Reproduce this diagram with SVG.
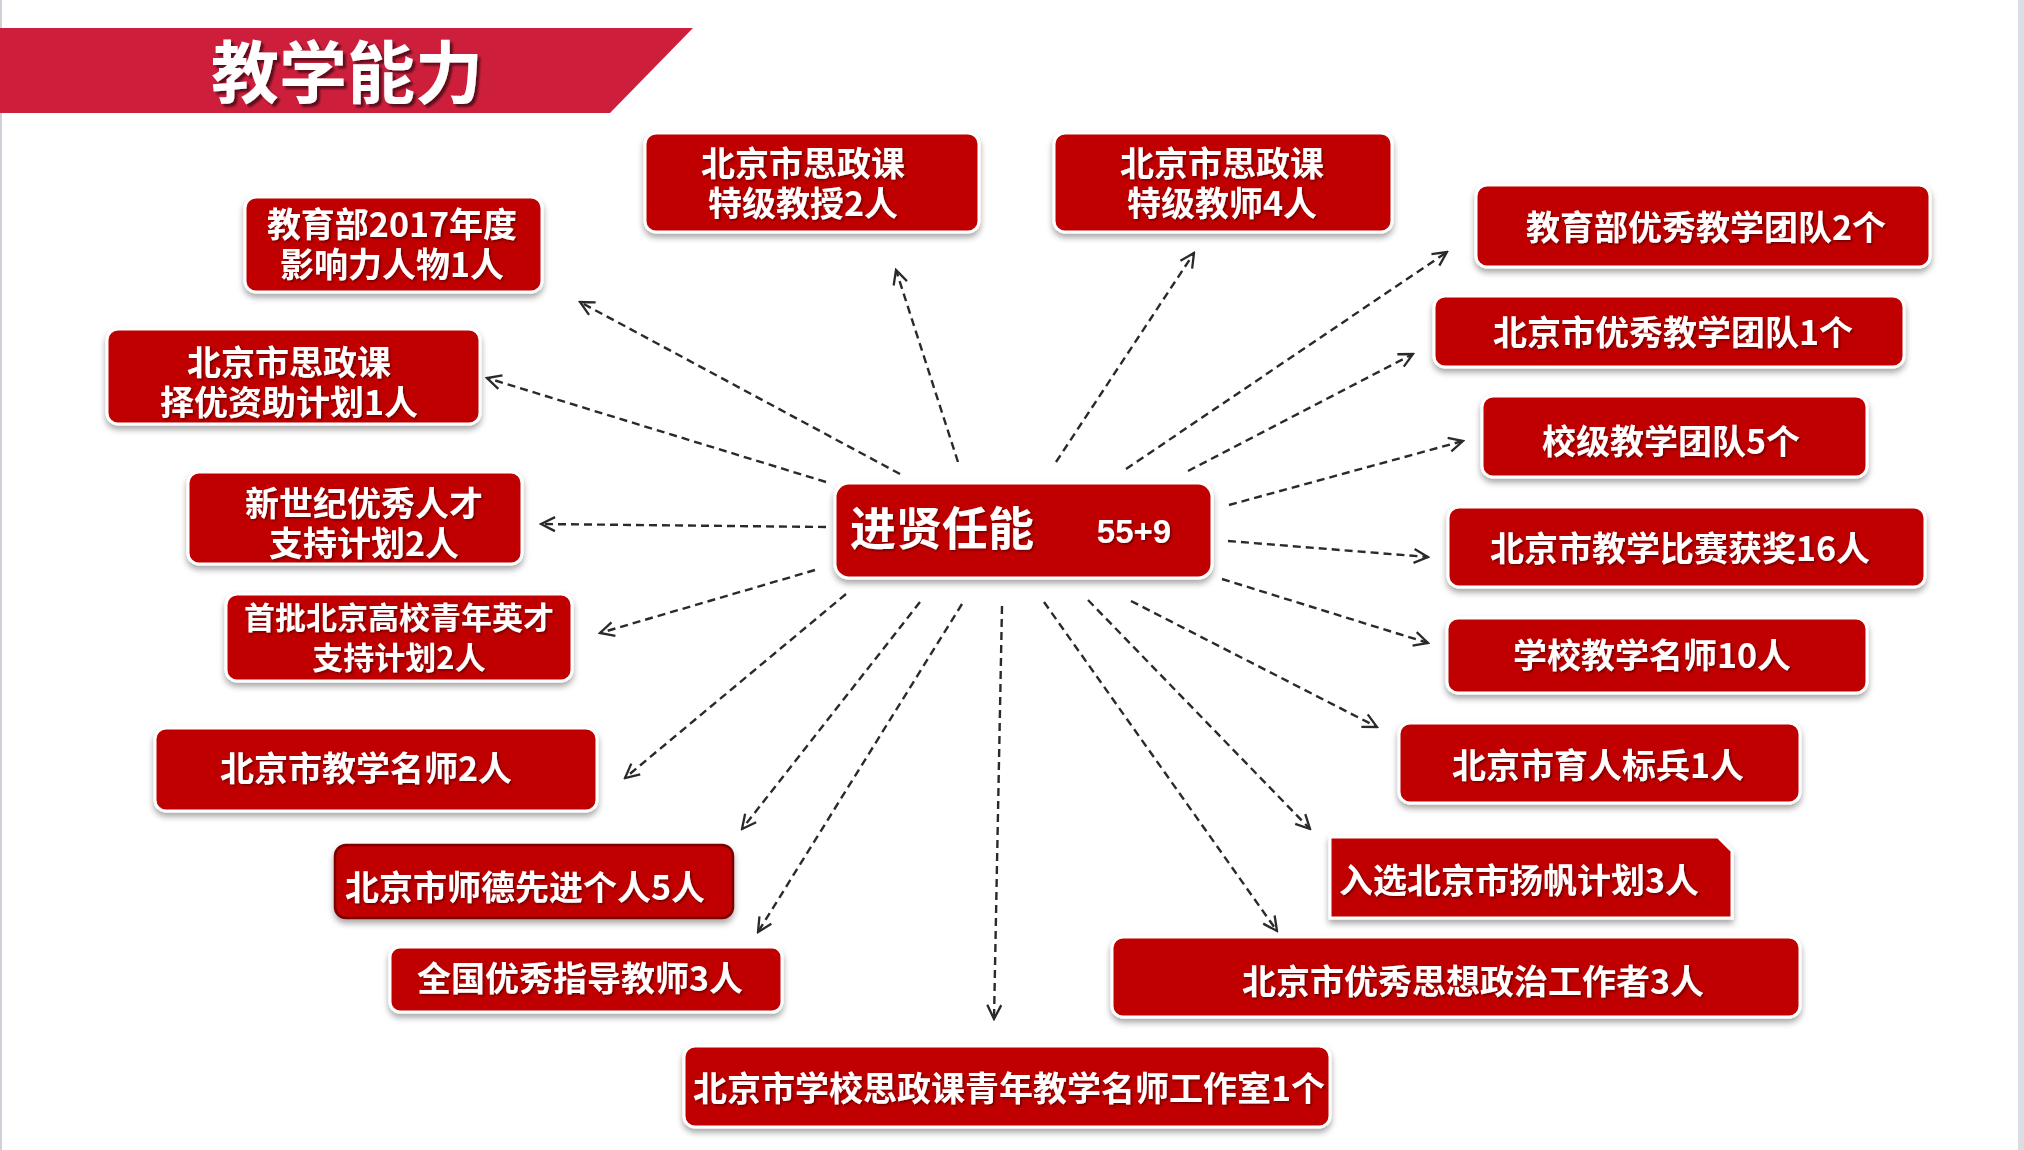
<svg xmlns="http://www.w3.org/2000/svg" width="2024" height="1150" viewBox="0 0 2024 1150">
<defs>
<style>
.node{fill:#C00000;stroke:#fff;stroke-width:3;filter:url(#sh)}
.nodeN{fill:#C00000;stroke:#7d0000;stroke-width:2.5;filter:url(#sh)}
.t{font-family:"Noto Sans CJK SC","Noto Sans CJK TC",sans-serif;font-weight:700;font-size:34px;fill:#fff;text-anchor:middle;filter:url(#tsh)}
.t31{font-size:31px}
.conn{fill:none;stroke:#2a2a2a;stroke-width:2.4;stroke-dasharray:8 5;marker-end:url(#arr)}
</style>
<filter id="sh" x="-10%" y="-20%" width="120%" height="150%">
<feDropShadow dx="0" dy="4" stdDeviation="3" flood-color="#000" flood-opacity="0.35"/>
</filter>
<filter id="tsh" x="-10%" y="-30%" width="120%" height="160%">
<feDropShadow dx="1.5" dy="1.5" stdDeviation="0.8" flood-color="#000" flood-opacity="0.45"/>
</filter>
<filter id="tsh2" x="-10%" y="-30%" width="120%" height="160%">
<feDropShadow dx="3" dy="3" stdDeviation="1.2" flood-color="#000" flood-opacity="0.55"/>
</filter>
<marker id="arr" viewBox="0 0 20 20" markerWidth="20" markerHeight="20" refX="18" refY="10" orient="auto" markerUnits="userSpaceOnUse">
<path d="M4,3 L18,10 L4,17" fill="none" stroke="#2a2a2a" stroke-width="2.3"/>
</marker>
</defs>
<rect x="0" y="0" width="2024" height="1150" fill="#fff"/>
<rect x="0" y="0" width="2" height="1150" fill="#cfd0d8"/>
<rect x="2018" y="0" width="6" height="1150" fill="#dcdde3"/>

<g id="title">
<polygon points="0,28 693,28 610,113 0,113" fill="#CD1F3C"/>
<text x="347" y="98" font-family="'Noto Sans CJK SC',sans-serif" font-weight="700" font-size="68" fill="#fff" text-anchor="middle" filter="url(#tsh2)">教学能力</text>
</g>

<g id="connectors">
<line class="conn" x1="900" y1="474" x2="580" y2="302"/>
<line class="conn" x1="958" y1="462" x2="896" y2="270"/>
<line class="conn" x1="1056" y1="462" x2="1194" y2="253"/>
<line class="conn" x1="1126" y1="469" x2="1447" y2="252"/>
<line class="conn" x1="1188" y1="471" x2="1413" y2="354"/>
<line class="conn" x1="1229" y1="505" x2="1463" y2="441"/>
<line class="conn" x1="1228" y1="541" x2="1428" y2="557"/>
<line class="conn" x1="1222" y1="579" x2="1428" y2="643"/>
<line class="conn" x1="1131" y1="601" x2="1377" y2="727"/>
<line class="conn" x1="1088" y1="600" x2="1310" y2="829"/>
<line class="conn" x1="1044" y1="602" x2="1277" y2="931"/>
<line class="conn" x1="1002" y1="606" x2="994" y2="1019"/>
<line class="conn" x1="962" y1="604" x2="758" y2="932"/>
<line class="conn" x1="920" y1="602" x2="742" y2="829"/>
<line class="conn" x1="846" y1="594" x2="625" y2="778"/>
<line class="conn" x1="815" y1="570" x2="600" y2="633"/>
<line class="conn" x1="826" y1="527" x2="541" y2="524"/>
<line class="conn" x1="826" y1="482" x2="487" y2="378"/>
</g>

<g id="center">
<rect class="node" x="835" y="483" width="377" height="95" rx="14"/>
<text class="t" x="942" y="545" style="font-size:46px">进贤任能</text>
<text x="1134" y="543" font-family="'Liberation Sans',Arial,sans-serif" font-weight="700" font-size="33" fill="#fff" text-anchor="middle" filter="url(#tsh)">55+9</text>
</g>

<g id="nA">
<rect class="node" x="245" y="197" width="297" height="95" rx="11"/>
<text class="t" x="392" y="237">教育部2017年度<tspan x="392" dy="40">影响力人物1人</tspan></text>
</g>
<g id="nB">
<rect class="node" x="645" y="133" width="334" height="99" rx="11"/>
<text class="t" x="803" y="176">北京市思政课<tspan x="803" dy="40">特级教授2人</tspan></text>
</g>
<g id="nC">
<rect class="node" x="1054" y="133" width="338" height="99" rx="11"/>
<text class="t" x="1222" y="176">北京市思政课<tspan x="1222" dy="40">特级教师4人</tspan></text>
</g>
<g id="nD">
<rect class="node" x="1476" y="185" width="454" height="82" rx="11"/>
<text class="t" x="1706" y="240">教育部优秀教学团队2个</text>
</g>
<g id="nE">
<rect class="node" x="1434" y="296" width="470" height="71" rx="11"/>
<text class="t" x="1673" y="345">北京市优秀教学团队1个</text>
</g>
<g id="nF">
<rect class="node" x="1482" y="396" width="385" height="81" rx="11"/>
<text class="t" x="1671" y="454">校级教学团队5个</text>
</g>
<g id="nG">
<rect class="node" x="1448" y="507" width="477" height="80" rx="11"/>
<text class="t" x="1680" y="561">北京市教学比赛获奖16人</text>
</g>
<g id="nH">
<rect class="node" x="1447" y="618" width="420" height="75" rx="11"/>
<text class="t" x="1652" y="668">学校教学名师10人</text>
</g>
<g id="nI">
<rect class="node" x="1399" y="723" width="401" height="80" rx="11"/>
<text class="t" x="1598" y="778">北京市育人标兵1人</text>
</g>
<g id="nJ">
<path class="node" d="M1330,837 L1718,837 L1732,851 L1732,918 L1330,918 Z"/>
<text class="t" x="1519" y="893">入选北京市扬帆计划3人</text>
</g>
<g id="nK">
<rect class="node" x="1112" y="937" width="688" height="80" rx="11"/>
<text class="t" x="1473" y="994">北京市优秀思想政治工作者3人</text>
</g>
<g id="nL">
<rect class="node" x="684" y="1046" width="646" height="81" rx="11"/>
<text class="t" x="1009" y="1101">北京市学校思政课青年教学名师工作室1个</text>
</g>
<g id="nM">
<rect class="node" x="390" y="947" width="392" height="65" rx="10"/>
<text class="t" x="580" y="991">全国优秀指导教师3人</text>
</g>
<g id="nN">
<rect class="nodeN" x="335" y="845" width="398" height="73" rx="11"/>
<text class="t" x="525" y="900">北京市师德先进个人5人</text>
</g>
<g id="nO">
<rect class="node" x="155" y="728" width="442" height="83" rx="11"/>
<text class="t" x="366" y="781">北京市教学名师2人</text>
</g>
<g id="nP">
<rect class="node" x="226" y="594" width="346" height="87" rx="11"/>
<text class="t t31" x="399" y="629">首批北京高校青年英才<tspan x="399" dy="40">支持计划2人</tspan></text>
</g>
<g id="nQ">
<rect class="node" x="188" y="472" width="334" height="92" rx="11"/>
<text class="t" x="364" y="516">新世纪优秀人才<tspan x="364" dy="40">支持计划2人</tspan></text>
</g>
<g id="nR">
<rect class="node" x="107" y="329" width="373" height="95" rx="11"/>
<text class="t" x="289" y="375">北京市思政课<tspan x="289" dy="40">择优资助计划1人</tspan></text>
</g>
</svg>
